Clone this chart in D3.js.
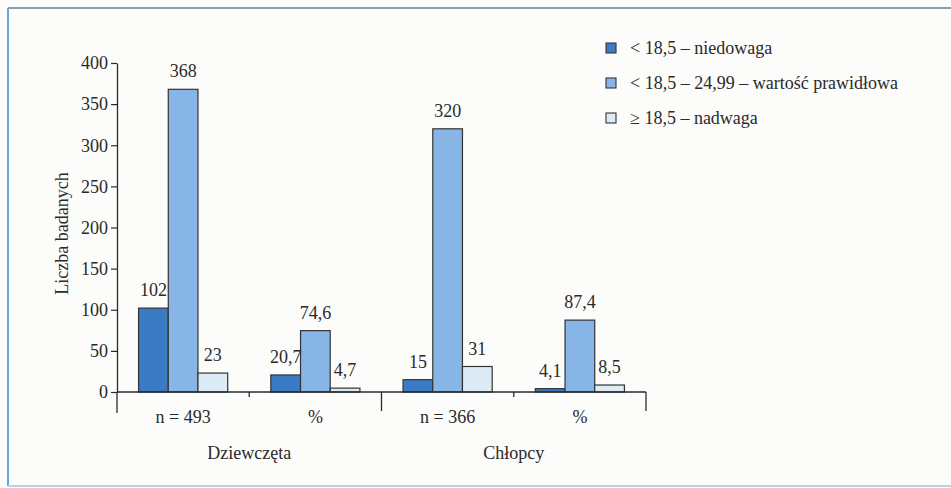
<!DOCTYPE html>
<html>
<head>
<meta charset="utf-8">
<script src="https://cdn.jsdelivr.net/npm/d3@7"></script>
<style>
  html, body { margin: 0; padding: 0; background: #fcfcfa; }
  svg { display: block; font-family: "Liberation Serif", "Times New Roman", serif; }
</style>
</head>
<body>
<svg id="chart" width="951" height="488"></svg>
<script>
// Sub-categories along the x axis (two per group) and the group names
const categories = ["n = 493", "%", "n = 366", "%"];
const groups = ["Dziewczęta", "Chłopcy"];

// BMI classes (legend entries) and their values per sub-category
const seriesNames = [
  "< 18,5 – niedowaga",
  "< 18,5 – 24,99 – wartość prawidłowa",
  "≥ 18,5 – nadwaga"
];
const niedowaga  = [102, 20.7, 15, 4.1];
const prawidlowa = [368, 74.6, 320, 87.4];
const nadwaga    = [23, 4.7, 31, 8.5];

const yTicks = [0, 50, 100, 150, 200, 250, 300, 350, 400];
const yTitle = "Liczba badanych";

const series = [niedowaga, prawidlowa, nadwaga];
const colors = ["#3a7bc4", "#86b5e6", "#dcebf6"];
const ink = "#2a2a2a";

const svg = d3.select("#chart");

// Frame around the figure
svg.append("line").attr("x1", 8).attr("x2", 8).attr("y1", 8).attr("y2", 486)
  .attr("stroke", "#6aa6d2").attr("stroke-width", 2);
svg.append("line").attr("x1", 8).attr("x2", 951).attr("y1", 8).attr("y2", 8)
  .attr("stroke", "#8a9cb2").attr("stroke-width", 2);
svg.append("line").attr("x1", 8).attr("x2", 951).attr("y1", 486).attr("y2", 486)
  .attr("stroke", "#b9d3e6").attr("stroke-width", 2);

// Scales
const plotLeft = 117, plotRight = 646, yBase = 392, yTop = 63;
const y = d3.scaleLinear().domain([0, 400]).range([yBase, yTop]);
const x0 = d3.scaleBand().domain(d3.range(categories.length))
  .range([plotLeft, plotRight]).paddingInner(0).paddingOuter(0);
const x1 = d3.scaleBand().domain(d3.range(series.length))
  .range([0, x0.bandwidth()]).paddingInner(0).paddingOuter(0.726);

// Y axis
const yAxis = svg.append("g")
  .attr("transform", `translate(${plotLeft},0)`)
  .call(d3.axisLeft(y).tickValues(yTicks).tickSize(6).tickPadding(3).tickSizeOuter(0));
yAxis.select(".domain").attr("stroke", ink).attr("stroke-width", 1.3);
yAxis.selectAll(".tick line").attr("stroke", ink).attr("stroke-width", 1.2);
yAxis.selectAll(".tick text")
  .attr("font-family", "Liberation Serif, serif")
  .attr("font-size", 18).attr("fill", ink);
// the vertical axis runs on below the baseline
svg.append("line").attr("x1", plotLeft).attr("x2", plotLeft)
  .attr("y1", yBase).attr("y2", 413).attr("stroke", ink).attr("stroke-width", 1.3);

// Y axis title
svg.append("text")
  .attr("transform", `translate(62,${(170 + 297) / 2}) rotate(-90)`)
  .attr("text-anchor", "middle").attr("dy", "0.35em")
  .attr("font-size", 18).attr("fill", ink)
  .text(yTitle);

// Bars
const bars = svg.append("g");
categories.forEach((cat, ci) => {
  series.forEach((vals, si) => {
    const v = vals[ci];
    bars.append("rect")
      .attr("x", x0(ci) + x1(si))
      .attr("y", y(v))
      .attr("width", x1.bandwidth())
      .attr("height", y(0) - y(v))
      .attr("fill", colors[si])
      .attr("stroke", "#333")
      .attr("stroke-width", 1.2);
  });
});

// Value labels above each bar
const fmt = v => String(v).replace(".", ",");
categories.forEach((cat, ci) => {
  series.forEach((vals, si) => {
    const v = vals[ci];
    svg.append("text")
      .attr("x", x0(ci) + x1(si) + x1.bandwidth() / 2)
      .attr("y", y(v) - 12)
      .attr("text-anchor", "middle")
      .attr("font-size", 18).attr("fill", ink)
      .text(fmt(v));
  });
});

// X axis baseline with group separators
svg.append("line").attr("x1", plotLeft).attr("x2", plotRight)
  .attr("y1", yBase).attr("y2", yBase).attr("stroke", ink).attr("stroke-width", 1.3);
d3.range(1, categories.length + 1).forEach(i => {
  const xx = i < categories.length ? x0(i) : plotRight;
  const long = i % 2 === 0;
  svg.append("line").attr("x1", xx).attr("x2", xx)
    .attr("y1", yBase).attr("y2", long ? 411 : 397)
    .attr("stroke", ink).attr("stroke-width", 1.3);
});

// Sub-category labels
categories.forEach((cat, ci) => {
  svg.append("text")
    .attr("x", x0(ci) + x0.bandwidth() / 2)
    .attr("y", 423)
    .attr("text-anchor", "middle")
    .attr("font-size", 18).attr("fill", ink)
    .text(cat);
});

// Group labels
groups.forEach((g, gi) => {
  const cx = (x0(gi * 2) + x0(gi * 2 + 1) + x0.bandwidth()) / 2;
  svg.append("text")
    .attr("x", cx).attr("y", 459)
    .attr("text-anchor", "middle")
    .attr("font-size", 18).attr("fill", ink)
    .text(g);
});

// Legend
const legend = svg.append("g");
seriesNames.forEach((name, i) => {
  const cy = 48 + i * 35;
  legend.append("rect")
    .attr("x", 606).attr("y", cy - 5)
    .attr("width", 10).attr("height", 10)
    .attr("fill", colors[i]).attr("stroke", "#333").attr("stroke-width", 1.1);
  legend.append("text")
    .attr("x", 630).attr("y", cy).attr("dy", "0.35em")
    .attr("font-size", 18).attr("fill", ink)
    .text(name);
});
</script>
</body>
</html>
